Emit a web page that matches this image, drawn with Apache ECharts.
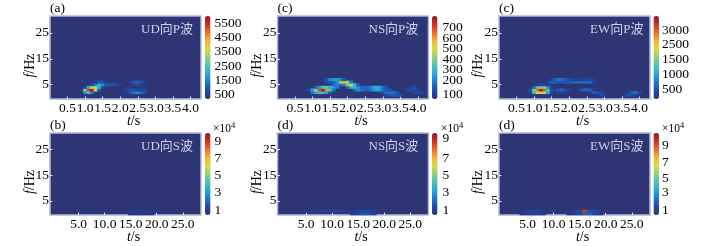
<!DOCTYPE html>
<html><head><meta charset="utf-8">
<style>html,body{margin:0;padding:0;background:#fff}#c{width:705px;height:246px;filter:blur(0.45px)}</style>
<script src="https://cdn.jsdelivr.net/npm/echarts@6/dist/echarts.min.js"></script>
</head><body><div id="c"></div>
<script>
const pTickLabels = [5, 10, 15, 20, 25, 30, 35, 40];      // tenths of a second, labelled 0.5 .. 4.0
const sTickLabels = [5, 10, 15, 20, 25];
const freqTicks = [5, 15, 25];

// P-wave spectra: rows are frequencies (Hz), columns start at 0.9 s, step 0.1 s; 0 = background
const udPValues = [
 /*f=2*/[0,1500,2500,1500,500,0,0,0,0,0,0,0,0,500,1000,1400,1600,1300,800,0],
 /*f=3*/[500,3000,5300,5800,3500,1000,0,0,0,0,0,0,500,700,1000,800,600,700,700,0],
 /*f=4*/[0,600,2000,3800,3500,2200,800,0,0,0,0,0,0,400,0,0,0,0,600,0],
 /*f=5*/[0,0,0,800,1500,2200,1600,1000,1000,900,700,500,0,0,0,500,700,600,0,0],
 /*f=6*/[0,0,0,0,500,1000,900,400,0,0,0,0,0,0,500,1000,1100,900,400,0]
];
const udPFreqs = [2,3,4,5,6];
const nsPValues = [
 /*f=1*/[0,0,0,0,0,0,0,0,0,0,0,0,0,0,0,0,0,0,0,0,0,0,100,120,140,130,110,0,0,0,0,0,0,0],
 /*f=2*/[0,180,280,330,320,250,130,0,0,0,0,0,0,0,0,0,0,0,0,0,0,110,160,180,160,120,0,0,0,0,85,100,100,0],
 /*f=3*/[110,250,430,690,790,620,350,170,0,0,0,0,0,150,230,180,150,150,200,260,260,170,130,110,0,0,0,0,85,100,100,85,0,0],
 /*f=4*/[0,0,150,230,350,360,300,240,180,0,0,150,280,300,220,150,160,170,220,280,270,170,120,0,0,0,0,0,0,90,110,0,0,0],
 /*f=5*/[0,0,0,0,0,0,0,160,190,170,180,400,500,300,130,0,0,0,0,0,0,0,0,0,0,0,0,0,0,0,0,0,0,0],
 /*f=6*/[0,0,0,0,0,110,130,130,220,420,560,430,200,0,0,0,0,0,0,0,0,0,0,0,0,0,0,0,0,0,0,0,0,0],
 /*f=7*/[0,0,0,0,0,120,200,240,240,200,120,0,0,0,0,0,0,0,0,0,0,0,0,0,0,0,0,0,0,0,0,0,0,0]
];
const nsPFreqs = [1,2,3,4,5,6,7];
const ewPValues = [
 /*f=1*/[0,0,0,0,0,0,0,0,0,0,0,0,0,0,0,0,0,0,0,300,450,350,0,0,0,0,0,350,500,450,350,0,0],
 /*f=2*/[300,1100,1800,2000,1700,1000,400,0,300,300,300,0,0,0,0,0,0,350,550,550,400,0,0,0,0,0,0,0,350,550,650,400,0],
 /*f=3*/[500,1500,2400,2950,2500,1300,500,350,500,600,450,350,0,0,400,550,650,600,350,0,0,0,0,0,0,0,0,0,0,0,0,0,0],
 /*f=4*/[0,600,1300,1600,1500,900,300,0,0,0,0,0,0,0,0,0,0,0,0,0,0,0,0,0,0,0,0,0,0,0,0,0,0],
 /*f=5*/[0,0,300,400,400,300,0,0,0,0,0,0,0,0,0,0,0,0,0,0,0,0,0,0,0,0,0,0,0,0,0,0,0],
 /*f=6*/[0,0,0,0,0,300,600,500,500,500,500,550,600,650,650,650,650,650,400,0,0,0,0,0,0,0,0,0,0,0,0,0,0],
 /*f=7*/[0,0,0,0,0,0,350,600,700,650,550,450,350,300,300,300,350,400,300,0,0,0,0,0,0,0,0,0,0,0,0,0,0]
];
const ewPFreqs = [1,2,3,4,5,6,7];

// S-wave spectra (x10^4): rows f = 0, 1 Hz; columns t = 0 .. 28 s
const udSValues = [
 [0,0,0,0,0,0,0,0,0,0,0,0,0,0,0,.65,.7,.7,.65,.6,0,0,0,0,0,0,0,0,0],
 [0,0,0,0,0,0,0,.55,.6,.55,0,0,0,0,0,.7,.75,.75,.75,.7,.65,0,0,0,0,0,0,0,0]
];
const nsSValues = [
 [0,0,0,0,0,0,0,0,0,0,0,0,0,0,.7,1.1,1.6,1.6,.9,0,0,0,0,0,0,0,0,0,0],
 [0,0,0,0,.6,.65,.7,.7,.85,1,1,1,.9,.8,.9,1,1.2,1.2,1,.7,0,0,0,0,0,0,0,0,0]
];
const ewSValues = [
 [0,0,0,0,.6,.8,.9,.9,.7,0,0,0,0,.6,.8,1.1,1.8,1.8,1,.6,0,0,0,0,0,0,0,0,0],
 [0,0,0,0,.7,.95,1.1,1.1,.85,.6,0,0,0,.7,.9,1.3,9,1.5,1.2,.8,.6,0,0,0,0,0,0,0,0]
];

const udPBarTicks = [500,1500,2500,3500,4500,5500];
const udPBarText = ['500','1500','2500','3500','4500','5500'];
const nsPBarTicks = [64,200,304,398,502,593,700];
const nsPBarText = ['100','200','300','400','500','600','700'];
const ewPBarTicks = [500,1000,1500,2000,2500];
const ewPBarText = ['500','1000','1500','2500','3000'];
const udSBarTicks = [1,3,5,7,9];
const nsSBarTicks = [1,3,5,7,9.4];
const ewSBarTicks = [1,3.1,4.74,6.6,8.6];
const sBarText = ['1','3','5','7','9'];

const jet = ['#2c3474','#1f4aa8','#1e78c8','#23a8dc','#4cc3b8','#8ed07a','#dcdc40','#f9b233','#ef6a2a','#d22d26','#8a1c22'];
const font = '"Liberation Serif","Noto Sans CJK SC",serif';
const plotW = 151, tickCol = '#e4e6f4';

function range(n, f){ return Array.from({length:n}, (_, i) => f(i)); }

const panels = [
 {kind:'P',letter:'(a)',label:'UD向P波',left:50,  top:16, barLeft:205,barW:5.5,gapB:4,vals:udPValues,freqs:udPFreqs,t0:9,min:200,max:6010,ticks:udPBarTicks,texts:udPBarText,nameX:30},
 {kind:'P',letter:'(c)',label:'NS向P波',left:277.5,top:16,barLeft:432,barW:5.5,gapB:5,vals:nsPValues,freqs:nsPFreqs,t0:9,min:24,max:807,ticks:nsPBarTicks,texts:nsPBarText,nameX:257},
 {kind:'P',letter:'(c)',label:'EW向P波',left:499, top:16, barLeft:653.5,barW:5.5,gapB:3,vals:ewPValues,freqs:ewPFreqs,t0:9,min:160,max:2975,ticks:ewPBarTicks,texts:ewPBarText,nameX:478},
 {kind:'S',letter:'(b)',label:'UD向S波',left:50,  top:133,barLeft:205,barW:5.5,gapB:4,vals:udSValues,freqs:[0,1],t0:0,min:.41,max:10,ticks:udSBarTicks,texts:sBarText,nameX:30,exp:213},
 {kind:'S',letter:'(d)',label:'NS向S波',left:277.5,top:133,barLeft:432,barW:5.5,gapB:5,vals:nsSValues,freqs:[0,1],t0:0,min:.41,max:10,ticks:nsSBarTicks,texts:sBarText,nameX:257,exp:441},
 {kind:'S',letter:'(d)',label:'EW向S波',left:499, top:133,barLeft:653.5,barW:5.5,gapB:3,vals:ewSValues,freqs:[0,1],t0:0,min:.41,max:10,ticks:ewSBarTicks,texts:sBarText,nameX:478,exp:662}
];

const option = {animation:false,backgroundColor:'#fff',textStyle:{fontFamily:font},
 grid:[],xAxis:[],yAxis:[],series:[],visualMap:[],title:[]};

const labelStyle = {fontFamily:font,fontSize:13.5,color:'#000',lineHeight:9};
const nameRich = {i:{fontFamily:font,fontSize:14,fontStyle:'italic',color:'#000'},n:{fontFamily:font,fontSize:14,color:'#000'}};

panels.forEach((p,k)=>{
 const h = p.kind==='P'?83:82;
 const isP = p.kind==='P';
 const xData = isP ? range(44,i=>i) : range(29,i=>i);
 const yData = range(32,i=>i);
 const xTicks = isP ? pTickLabels : sTickLabels;
 option.grid.push({left:p.left,top:p.top,width:plotW,height:h,show:true,backgroundColor:'#2e3575',borderColor:'#b4b8dc',borderWidth:1.5});
 option.xAxis.push({gridIndex:k*2,type:'category',data:xData,boundaryGap:!isP,
   name:'{i|t}{n|/s}',nameLocation:'middle',nameGap:15,nameMoveOverlap:false,nameTextStyle:{rich:nameRich,padding:[0,0,0,16]},
   axisLine:{show:false},
   axisTick:{show:true,inside:true,length:2.5,alignWithLabel:true,interval:i=>xTicks.includes(i),lineStyle:{color:tickCol,width:1}},
   axisLabel:Object.assign({show:true,margin:5,hideOverlap:false,interval:i=>xTicks.includes(i),formatter:v=>(isP?(+v/10):(+v)).toFixed(1)},labelStyle),
   splitLine:{show:false}});
 option.yAxis.push({gridIndex:k*2,type:'category',data:yData,
   name:'{i|f}{n|/Hz}',nameLocation:'middle',nameRotate:90,nameGap:p.left-p.nameX-7,nameMoveOverlap:false,nameTextStyle:{rich:nameRich,padding:[0,16,0,0]},
   axisLine:{show:false},
   axisTick:{show:true,inside:true,length:2.5,alignWithLabel:true,interval:i=>freqTicks.includes(i),lineStyle:{color:tickCol,width:1}},
   axisLabel:Object.assign({show:true,margin:1,hideOverlap:false,interval:i=>freqTicks.includes(i)},labelStyle),
   splitLine:{show:false}});
 const data=[];
 p.vals.forEach((row,r)=>row.forEach((v,c)=>{ if(v>0) data.push([c+p.t0,p.freqs[r],v]); }));
 option.series.push({type:'heatmap',xAxisIndex:k*2,yAxisIndex:k*2,data:data,silent:true,
   emphasis:{disabled:true},progressive:0});
 option.visualMap.push({type:'continuous',seriesIndex:option.series.length-1,min:p.min,max:p.max,calculable:false,
   left:p.barLeft,top:p.top,itemWidth:p.barW,itemHeight:h,padding:0,text:null,showLabel:false,inRange:{color:jet},hoverLink:false,
   textStyle:{color:'rgba(0,0,0,0)',fontSize:1}});

 // colour-bar scale: an empty value axis next to the bar
 option.grid.push({left:p.barLeft,top:p.top,width:p.barW,height:h});
 option.xAxis.push({gridIndex:k*2+1,type:'value',show:false,min:0,max:1});
 option.yAxis.push({gridIndex:k*2+1,type:'value',position:'right',min:p.min,max:p.max,
   axisLine:{show:false},axisTick:{show:false},splitLine:{show:false},
   axisLabel:Object.assign({show:true,margin:p.gapB,customValues:[p.min].concat(p.ticks,[p.max]),hideOverlap:false,
     formatter:v=>p.texts[p.ticks.indexOf(v)]||''},labelStyle)});

 option.title.push({text:p.letter,left:p.left,top:p.top-14,padding:0,textStyle:{fontFamily:font,fontSize:13.5,fontWeight:'normal',color:'#000'}});
 option.title.push({text:p.label,left:p.left+143-52,top:p.top+7.5,padding:0,textStyle:{fontFamily:font,fontSize:13,fontWeight:'normal',color:'#cdd2e6'}});
 if(p.exp) option.title.push({text:'×10{s|4}',left:p.exp,top:122,padding:0,textStyle:{fontFamily:font,fontSize:11.5,fontWeight:'normal',color:'#000',
   rich:{s:{fontFamily:font,fontSize:8.5,color:'#000',padding:[0,0,5,0]}}}});
});

const chart = echarts.init(document.getElementById('c'),null,{renderer:'canvas'});
chart.setOption(option);
</script></body></html>
